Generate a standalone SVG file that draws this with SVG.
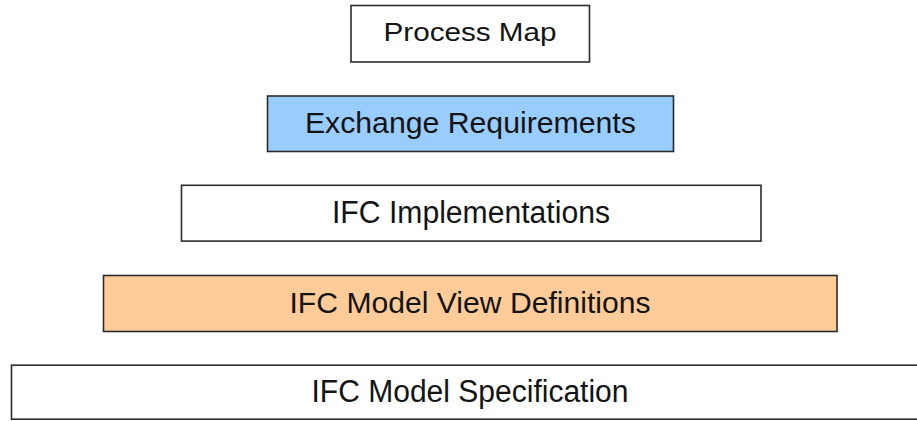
<svg xmlns="http://www.w3.org/2000/svg" width="917" height="421" viewBox="0 0 917 421">
  <style>
    .box { stroke: #2b2b2b; stroke-width: 1.6; }
    .plain { fill: #ffffff; }
    .blue { fill: #99ccff; }
    .orange { fill: #ffcc99; }
    .label { font-family: "Liberation Sans", Arial, sans-serif; fill: #141414; text-anchor: middle; }
  </style>
  <rect width="917" height="421" fill="#ffffff"/>

  <!-- layered stack, narrowest on top -->
  <g id="process-map">
    <rect class="box plain" x="351" y="5.5" width="238.5" height="56.5"/>
    <text class="label" x="470" y="40.7" font-size="26.5" textLength="173" lengthAdjust="spacingAndGlyphs">Process Map</text>
  </g>

  <g id="exchange-requirements">
    <rect class="box blue" x="267.5" y="96" width="406" height="55.5"/>
    <text class="label" x="470.4" y="132.7" font-size="30" textLength="331" lengthAdjust="spacingAndGlyphs">Exchange Requirements</text>
  </g>

  <g id="ifc-implementations">
    <rect class="box plain" x="181.5" y="185.3" width="579.5" height="55.8"/>
    <text class="label" x="471" y="222.7" font-size="31" textLength="278" lengthAdjust="spacingAndGlyphs">IFC Implementations</text>
  </g>

  <g id="ifc-model-view-definitions">
    <rect class="box orange" x="103.5" y="275.5" width="733.5" height="56"/>
    <text class="label" x="470" y="313.3" font-size="30" textLength="361" lengthAdjust="spacingAndGlyphs">IFC Model View Definitions</text>
  </g>

  <g id="ifc-model-specification">
    <rect class="box plain" x="11.5" y="365.2" width="920" height="54"/>
    <text class="label" x="470" y="402.3" font-size="31" textLength="317" lengthAdjust="spacingAndGlyphs">IFC Model Specification</text>
  </g>

  <g id="connectors"></g>
</svg>
